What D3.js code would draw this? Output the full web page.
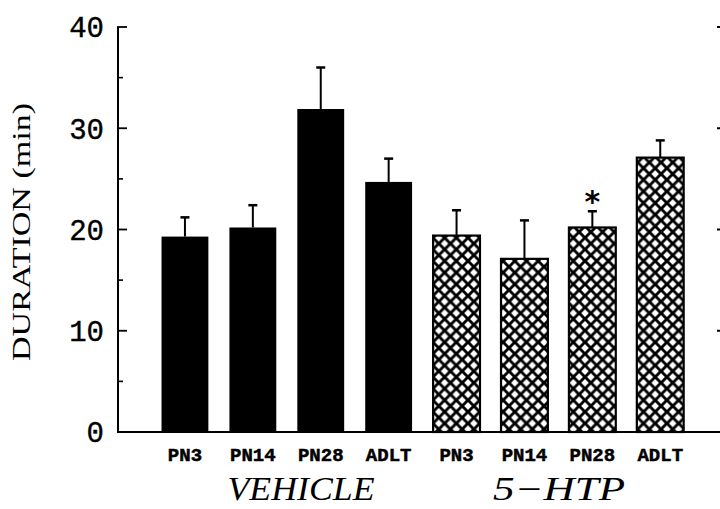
<!DOCTYPE html>
<html>
<head>
<meta charset="utf-8">
<script src="https://cdn.jsdelivr.net/npm/d3@7"></script>
<style>
  html, body { margin: 0; padding: 0; background: #fff; }
  svg { display: block; }
</style>
</head>
<body>
<svg id="chart" width="720" height="509"></svg>
<script>
// ---- data ----
const ageLabels = ["PN3", "PN14", "PN28", "ADLT"];
const groupLabels = ["VEHICLE", "5\u2212HTP"];
const vehicleMeans = [19.3, 20.2, 31.9, 24.7];
const vehicleSEM   = [1.9, 2.2, 4.1, 2.3];
const htpMeans     = [19.4, 17.1, 20.2, 27.1];
const htpSEM       = [2.5, 3.8, 1.6, 1.7];
const htpSignificant = [false, false, true, false];
const yTicks = [0, 10, 20, 30, 40];
const yMinorTicks = [5, 15, 25, 35];
const yTitle = "DURATION (min)";

// ---- build table ----
const rows = [];
ageLabels.forEach((a, i) => rows.push({key: "v" + i, age: a, group: 0, mean: vehicleMeans[i], sem: vehicleSEM[i], sig: false}));
ageLabels.forEach((a, i) => rows.push({key: "h" + i, age: a, group: 1, mean: htpMeans[i], sem: htpSEM[i], sig: htpSignificant[i]}));

const svg = d3.select("#chart");

// pattern for 5-HTP bars
const defs = svg.append("defs");
const pw = 11.7, ph = 11.6, dr = 3.8;
const pat = defs.append("pattern")
  .attr("id", "xhatch").attr("patternUnits", "userSpaceOnUse")
  .attr("width", pw).attr("height", ph);
pat.append("rect").attr("width", pw).attr("height", ph).attr("fill", "#000");
const diamond = (cx, cy) => `M${cx},${cy - dr}L${cx + dr},${cy}L${cx},${cy + dr}L${cx - dr},${cy}Z`;
pat.append("path")
  .attr("d", [diamond(pw / 2, ph / 2), diamond(0, 0), diamond(pw, 0), diamond(0, ph), diamond(pw, ph)].join(""))
  .attr("fill", "#fff");

const x = d3.scaleBand()
  .domain(rows.map(d => d.key))
  .range([151, 694.2])
  .paddingInner(0.31)
  .paddingOuter(0.155);

const y = d3.scaleLinear().domain([0, 40]).range([432, 27]);

// bars
svg.append("g").selectAll("rect")
  .data(rows).join("rect")
  .attr("x", d => x(d.key))
  .attr("y", d => y(d.mean))
  .attr("width", x.bandwidth())
  .attr("height", d => y(0) - y(d.mean))
  .attr("fill", d => d.group === 0 ? "#000" : "url(#xhatch)")
  .attr("stroke", "#000")
  .attr("stroke-width", d => d.group === 0 ? 0 : 2.2);

// error bars
const eb = svg.append("g").attr("stroke", "#000").attr("stroke-width", 2);
eb.selectAll("line.v").data(rows).join("line").attr("class", "v")
  .attr("x1", d => x(d.key) + x.bandwidth() / 2)
  .attr("x2", d => x(d.key) + x.bandwidth() / 2)
  .attr("y1", d => y(d.mean))
  .attr("y2", d => y(d.mean + d.sem));
eb.selectAll("line.c").data(rows).join("line").attr("class", "c")
  .attr("x1", d => x(d.key) + x.bandwidth() / 2 - 4.5)
  .attr("x2", d => x(d.key) + x.bandwidth() / 2 + 4.5)
  .attr("y1", d => y(d.mean + d.sem))
  .attr("y2", d => y(d.mean + d.sem))
  .attr("stroke-width", 2.5);

// significance asterisk
svg.append("g").selectAll("text")
  .data(rows.filter(d => d.sig)).join("text")
  .attr("x", d => x(d.key) + x.bandwidth() / 2)
  .attr("y", d => y(d.mean + d.sem) + 1)
  .attr("text-anchor", "middle")
  .attr("font-family", "DejaVu Sans")
  .attr("font-weight", "bold")
  .attr("font-size", 30)
  .text("*");

// left axis
const yAxis = svg.append("g").attr("transform", "translate(118,0)");
yAxis.append("line").attr("x1", 0).attr("x2", 0).attr("y1", y(40)).attr("y2", y(0))
  .attr("stroke", "#000").attr("stroke-width", 2);
yAxis.selectAll("line.maj").data(yTicks).join("line").attr("class", "maj")
  .attr("x1", -1).attr("x2", 9).attr("y1", d => y(d)).attr("y2", d => y(d))
  .attr("stroke", "#000").attr("stroke-width", 1.8);
yAxis.selectAll("line.min").data(yMinorTicks).join("line").attr("class", "min")
  .attr("x1", -1).attr("x2", 5).attr("y1", d => y(d)).attr("y2", d => y(d))
  .attr("stroke", "#000").attr("stroke-width", 1.6);
yAxis.selectAll("text").data(yTicks).join("text")
  .attr("x", -14).attr("y", d => y(d)).attr("dy", "0.36em")
  .attr("text-anchor", "end")
  .attr("font-family", "Liberation Mono")
  .attr("font-size", 29)
  .attr("stroke", "#000").attr("stroke-width", 0.4)
  .text(d => d);

// right axis (mostly clipped at the page edge)
const rAxis = svg.append("g").attr("transform", "translate(722,0)");
rAxis.selectAll("line").data(yTicks.filter(d => d > 0)).join("line")
  .attr("x1", -5).attr("x2", 0).attr("y1", d => y(d)).attr("y2", d => y(d))
  .attr("stroke", "#000").attr("stroke-width", 2);

// baseline
svg.append("line").attr("x1", 117).attr("x2", 720).attr("y1", y(0)).attr("y2", y(0))
  .attr("stroke", "#000").attr("stroke-width", 2);

// y title
svg.append("text")
  .attr("transform", `translate(30,${232}) rotate(-90)`)
  .attr("text-anchor", "middle")
  .attr("font-family", "Liberation Serif")
  .attr("font-size", 25)
  .attr("textLength", 258)
  .attr("lengthAdjust", "spacingAndGlyphs")
  .text(yTitle);

// category labels
svg.append("g").selectAll("text")
  .data(rows).join("text")
  .attr("x", d => x(d.key) + x.bandwidth() / 2)
  .attr("y", 461)
  .attr("text-anchor", "middle")
  .attr("font-family", "Liberation Mono")
  .attr("font-weight", "bold")
  .attr("font-size", 19)
  .attr("stroke", "#000").attr("stroke-width", 0.5)
  .text(d => d.age);

// group labels
const groupCenters = [301, 559];
const groupWidths = [147, 132];
svg.append("g").selectAll("text")
  .data(groupLabels).join("text")
  .attr("x", (d, i) => groupCenters[i])
  .attr("y", 500)
  .attr("text-anchor", "middle")
  .attr("font-family", "Liberation Serif")
  .attr("font-style", "italic")
  .attr("font-size", 33)
  .attr("textLength", (d, i) => groupWidths[i])
  .attr("lengthAdjust", "spacingAndGlyphs")
  .text(d => d);
</script>
</body>
</html>
